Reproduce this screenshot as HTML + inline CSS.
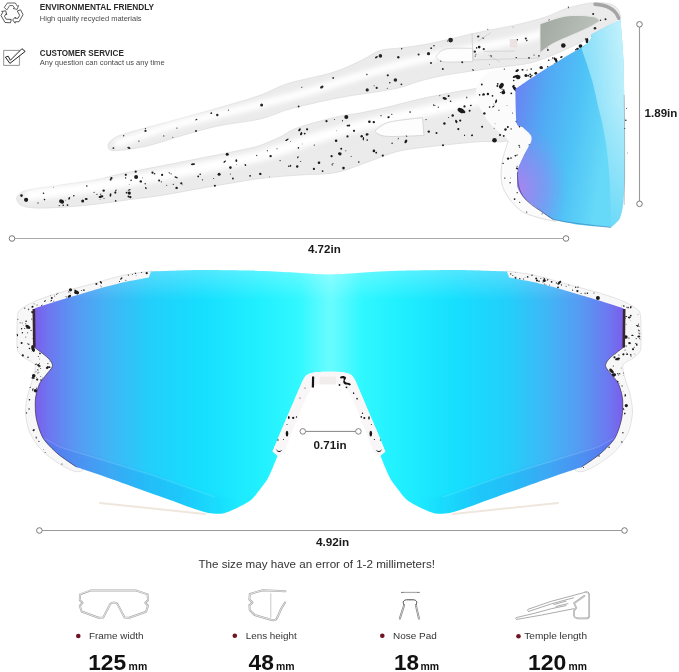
<!DOCTYPE html>
<html><head><meta charset="utf-8">
<style>
html,body{margin:0;padding:0;background:#fff;width:679px;height:672px;overflow:hidden}
svg{display:block;position:absolute;left:0;top:0}
text{font-family:"Liberation Sans",Arial,sans-serif}
.h{font-weight:bold;fill:#2a2a2a}
.s{fill:#4a4a4a}
.d{font-weight:bold;fill:#1a1a1a}
.lab{fill:#333}
.num{font-weight:bold;fill:#111}
</style></head><body>
<svg width="679" height="672" viewBox="0 0 679 672">
<defs>
<linearGradient id="fl" gradientUnits="userSpaceOnUse" x1="34" y1="0" x2="624" y2="0">
<stop offset="0.0000" stop-color="#7c5cec"/>
<stop offset="0.0271" stop-color="#6c78f0"/>
<stop offset="0.0695" stop-color="#5898f2"/>
<stop offset="0.1288" stop-color="#40b6f6"/>
<stop offset="0.1966" stop-color="#22cffb"/>
<stop offset="0.2814" stop-color="#16defe"/>
<stop offset="0.3831" stop-color="#20f0ff"/>
<stop offset="0.4508" stop-color="#32f8ff"/>
<stop offset="0.5000" stop-color="#44fbff"/>
<stop offset="0.5492" stop-color="#32f8ff"/>
<stop offset="0.6169" stop-color="#20f0ff"/>
<stop offset="0.7186" stop-color="#16defe"/>
<stop offset="0.8034" stop-color="#22cffb"/>
<stop offset="0.8712" stop-color="#40b6f6"/>
<stop offset="0.9305" stop-color="#5898f2"/>
<stop offset="0.9729" stop-color="#6c78f0"/>
<stop offset="1.0000" stop-color="#7c5cec"/>
</linearGradient>
<linearGradient id="fband" gradientUnits="userSpaceOnUse" x1="300" y1="0" x2="362" y2="0">
<stop offset="0" stop-color="#fff" stop-opacity="0"/>
<stop offset="0.5" stop-color="#fff" stop-opacity="0.2"/>
<stop offset="1" stop-color="#fff" stop-opacity="0"/>
</linearGradient>
<linearGradient id="ftop" gradientUnits="userSpaceOnUse" x1="0" y1="270" x2="0" y2="300">
<stop offset="0" stop-color="#fff" stop-opacity="0.25"/>
<stop offset="1" stop-color="#fff" stop-opacity="0"/>
</linearGradient>
<filter id="bl3" x="-10%" y="-30%" width="120%" height="160%"><feGaussianBlur stdDeviation="2.8"/></filter>
<filter id="bl2" x="-10%" y="-10%" width="120%" height="120%"><feGaussianBlur stdDeviation="1.5"/></filter>
<linearGradient id="bandL" gradientUnits="userSpaceOnUse" x1="40" y1="0" x2="240" y2="0">
<stop offset="0" stop-color="#2a70ee" stop-opacity="0.3"/><stop offset="0.7" stop-color="#2a86ee" stop-opacity="0.2"/><stop offset="1" stop-color="#2a90ee" stop-opacity="0"/></linearGradient>
<linearGradient id="bandR" gradientUnits="userSpaceOnUse" x1="618" y1="0" x2="418" y2="0">
<stop offset="0" stop-color="#2a70ee" stop-opacity="0.3"/><stop offset="0.7" stop-color="#2a86ee" stop-opacity="0.2"/><stop offset="1" stop-color="#2a90ee" stop-opacity="0"/></linearGradient>
<clipPath id="cfl"><path d="M329.0,274.5 C325.3,274.5 320.2,274.3 315.0,274.0 C309.8,273.7 298.7,272.8 290.0,272.3 C281.3,271.8 262.0,270.9 250.0,270.6 C238.0,270.3 213.2,269.9 200.0,270.0 C186.8,270.1 151.0,271.5 151.0,271.5 C151.0,271.5 149.0,277.5 149.0,277.5 C149.0,277.5 131.1,280.7 125.0,282.0 C118.9,283.3 108.9,285.9 103.0,287.5 C97.1,289.1 86.9,292.3 81.0,294.0 C75.1,295.7 64.9,298.7 59.0,300.5 C53.1,302.3 40.4,306.3 37.0,307.5 C33.6,308.7 33.5,309.5 33.5,309.5 C33.5,309.5 34.0,347.0 34.0,347.0 C34.0,347.0 45.5,355.5 48.0,358.0 C50.5,360.5 52.8,363.7 52.5,366.0 C52.2,368.3 47.7,372.6 46.0,375.0 C44.3,377.4 40.8,380.8 39.4,384.0 C38.0,387.2 35.8,394.5 35.4,399.0 C35.0,403.5 35.2,412.8 36.2,418.0 C37.2,423.2 40.1,433.2 43.0,438.0 C45.9,442.8 53.5,450.1 58.0,454.0 C62.5,457.9 76.5,467.0 76.5,467.0 C76.5,467.0 87.7,470.8 95.0,473.3 C102.3,475.8 121.5,482.6 131.0,486.0 C140.5,489.4 157.6,495.6 166.0,498.6 C174.4,501.6 188.3,506.9 194.0,508.8 C199.7,510.7 204.7,512.4 208.5,513.0 C212.3,513.6 218.8,514.2 222.6,513.5 C226.4,512.8 233.2,509.8 237.0,508.0 C240.8,506.2 248.0,502.4 251.0,500.0 C254.0,497.6 257.3,492.8 259.5,490.0 C261.7,487.2 265.7,482.1 267.5,479.0 C269.3,475.9 271.7,470.1 273.0,467.0 C274.3,463.9 277.5,456.0 277.5,456.0 C277.5,456.0 272.8,451.5 272.8,451.5 C272.8,451.5 278.6,437.0 281.5,430.0 C284.4,423.0 291.9,405.8 294.8,399.0 C297.7,392.2 301.8,382.3 303.6,379.0 C305.4,375.7 306.8,374.9 308.5,374.0 C310.2,373.1 313.3,372.5 316.0,372.2 C318.7,371.9 325.5,371.8 329.0,371.8 C332.5,371.8 339.3,371.9 342.0,372.2 C344.7,372.5 347.8,373.1 349.5,374.0 C351.2,374.9 352.6,375.7 354.4,379.0 C356.2,382.3 360.3,392.2 363.2,399.0 C366.1,405.8 373.6,423.0 376.5,430.0 C379.4,437.0 385.2,451.5 385.2,451.5 C385.2,451.5 380.5,456.0 380.5,456.0 C380.5,456.0 383.7,463.9 385.0,467.0 C386.3,470.1 388.7,475.9 390.5,479.0 C392.3,482.1 396.3,487.2 398.5,490.0 C400.7,492.8 404.0,497.6 407.0,500.0 C410.0,502.4 417.2,506.2 421.0,508.0 C424.8,509.8 431.6,512.8 435.4,513.5 C439.2,514.2 445.7,513.6 449.5,513.0 C453.3,512.4 458.3,510.7 464.0,508.8 C469.7,506.9 483.6,501.6 492.0,498.6 C500.4,495.6 517.5,489.4 527.0,486.0 C536.5,482.6 555.7,475.8 563.0,473.3 C570.3,470.8 581.5,467.0 581.5,467.0 C581.5,467.0 595.5,457.9 600.0,454.0 C604.5,450.1 612.1,442.8 615.0,438.0 C617.9,433.2 620.8,423.2 621.8,418.0 C622.8,412.8 623.0,403.5 622.6,399.0 C622.2,394.5 620.0,387.2 618.6,384.0 C617.2,380.8 613.7,377.4 612.0,375.0 C610.3,372.6 605.8,368.3 605.5,366.0 C605.2,363.7 607.5,360.5 610.0,358.0 C612.5,355.5 624.0,347.0 624.0,347.0 C624.0,347.0 624.5,309.5 624.5,309.5 C624.5,309.5 624.4,308.7 621.0,307.5 C617.6,306.3 604.9,302.3 599.0,300.5 C593.1,298.7 582.9,295.7 577.0,294.0 C571.1,292.3 560.9,289.1 555.0,287.5 C549.1,285.9 539.1,283.3 533.0,282.0 C526.9,280.7 509.0,277.5 509.0,277.5 C509.0,277.5 507.0,271.5 507.0,271.5 C507.0,271.5 471.2,270.1 458.0,270.0 C444.8,269.9 420.0,270.3 408.0,270.6 C396.0,270.9 376.7,271.8 368.0,272.3 C359.3,272.8 348.2,273.7 343.0,274.0 C337.8,274.3 332.7,274.5 329.0,274.5Z"/></clipPath>
<linearGradient id="sl" gradientUnits="userSpaceOnUse" x1="515" y1="100" x2="610" y2="115">
<stop offset="0" stop-color="#6a84f2"/>
<stop offset="0.3" stop-color="#52a8f4"/>
<stop offset="0.65" stop-color="#4ec2f6"/>
<stop offset="1" stop-color="#66d8f8"/>
</linearGradient>
<radialGradient id="slp" gradientUnits="userSpaceOnUse" cx="518" cy="190" r="50" gradientTransform="translate(518 190) scale(1 1.35) translate(-518 -190)">
<stop offset="0" stop-color="#ac84ee" stop-opacity="0.95"/>
<stop offset="0.6" stop-color="#9a88f0" stop-opacity="0.45"/>
<stop offset="1" stop-color="#8a90f0" stop-opacity="0"/>
</radialGradient>
<linearGradient id="sll" gradientUnits="userSpaceOnUse" x1="588" y1="0" x2="625" y2="0">
<stop offset="0" stop-color="#92e2f9"/>
<stop offset="1" stop-color="#c8f2fc"/>
</linearGradient>
<linearGradient id="sllm" gradientUnits="userSpaceOnUse" x1="0" y1="20" x2="0" y2="225">
<stop offset="0" stop-color="#fff"/>
<stop offset="0.4" stop-color="#fff" stop-opacity="0.85"/>
<stop offset="0.75" stop-color="#fff" stop-opacity="0.45"/>
<stop offset="1" stop-color="#fff" stop-opacity="0.1"/>
</linearGradient>
<mask id="sllmask" maskUnits="userSpaceOnUse" x="500" y="0" width="179" height="240"><rect x="500" y="0" width="179" height="240" fill="url(#sllm)"/></mask>
<linearGradient id="fg" gradientUnits="userSpaceOnUse" x1="539" y1="20" x2="600" y2="45">
<stop offset="0" stop-color="#a0a8a0"/>
<stop offset="1" stop-color="#c0c6c0"/>
</linearGradient>
</defs>
<path fill="#ebebeb" stroke="#dadada" stroke-width="0.7" d="M108.0,146.0 C108.0,146.0 108.3,142.5 111.0,140.5 C113.7,138.5 114.0,137.2 124.0,134.0 C134.0,130.8 155.3,125.3 171.0,121.0 C186.7,116.7 203.2,112.3 218.0,108.0 C232.8,103.7 248.3,99.4 260.0,95.3 C271.7,91.2 275.9,87.3 288.0,83.5 C300.1,79.7 320.2,76.4 332.5,72.5 C344.8,68.6 354.1,63.7 362.0,60.0 C369.9,56.3 373.7,52.5 380.0,50.5 C386.3,48.5 391.7,49.2 400.0,48.0 C408.3,46.8 417.0,46.1 430.0,43.5 C443.0,40.9 463.7,35.6 478.0,32.5 C492.3,29.4 504.8,27.4 516.0,24.9 C527.2,22.3 536.3,20.0 545.0,17.2 C553.7,14.4 560.0,10.4 568.0,8.0 C576.0,5.6 586.0,3.4 593.0,2.7 C600.0,2.0 605.8,2.9 610.0,4.0 C614.2,5.1 616.2,7.1 618.0,9.3 C619.8,11.6 621.0,17.5 621.0,17.5 C621.0,17.5 606.0,26.2 600.0,30.0 C594.0,33.8 591.7,36.3 585.0,40.0 C578.3,43.7 567.5,48.7 560.0,52.0 C552.5,55.3 545.8,58.0 540.0,60.0 C534.2,62.0 533.3,62.6 525.0,64.0 C516.7,65.4 501.7,66.9 490.0,68.5 C478.3,70.1 463.2,72.2 455.0,73.5 C446.8,74.8 446.8,74.8 441.0,76.0 C435.2,77.2 426.8,79.1 420.0,81.0 C413.2,82.9 407.2,85.7 400.0,87.5 C392.8,89.3 385.8,90.3 377.0,91.8 C368.2,93.3 356.8,94.6 347.0,96.3 C337.2,98.0 327.8,100.0 318.0,102.2 C308.2,104.4 297.7,106.7 288.0,109.5 C278.3,112.3 271.7,116.2 260.0,119.0 C248.3,121.8 230.9,123.3 218.0,126.0 C205.1,128.7 194.3,132.1 182.5,135.4 C170.7,138.7 158.4,143.4 147.0,146.0 C135.6,148.6 120.5,150.7 114.0,150.7 C107.5,150.7 108.0,146.0 108.0,146.0Z"/>
<path fill="none" stroke="#fff" stroke-width="8" stroke-linecap="round" filter="url(#bl3)" d="M118.0,143.0 C126.8,140.2 154.3,130.8 171.0,126.0 C187.7,121.2 203.2,118.1 218.0,114.5 C232.8,110.9 246.3,107.9 260.0,104.5 C273.7,101.1 286.7,97.8 300.0,94.0 C313.3,90.2 326.7,86.0 340.0,82.0 C353.3,78.0 365.0,74.2 380.0,70.0 C395.0,65.8 413.3,60.8 430.0,57.0 C446.7,53.2 463.3,50.3 480.0,47.0 C496.7,43.7 515.0,40.8 530.0,37.0 C545.0,33.2 563.3,26.2 570.0,24.0"/>
<path fill="#fdfdfd" stroke="#d0d0d0" stroke-width="0.8" d="M436.0,56.0 C436.0,56.0 439.9,50.3 446.0,49.0 C452.1,47.7 472.8,48.4 472.8,48.4 C472.8,48.4 472.8,61.5 472.8,61.5 C472.8,61.5 451.8,62.3 446.0,62.0 C440.2,61.7 439.7,60.5 438.0,59.5 C436.3,58.5 436.0,56.0 436.0,56.0Z"/>
<g fill="#262626"><circle cx="176.9" cy="128.1" r="0.6"/><ellipse cx="478.2" cy="36.6" rx="1.2" ry="1.0" transform="rotate(169 478.2 36.6)"/><circle cx="549.2" cy="20.6" r="1.0"/><circle cx="367.2" cy="89.9" r="1.6"/><circle cx="333.2" cy="77.9" r="0.9"/><circle cx="549.3" cy="37.1" r="1.3"/><circle cx="374.1" cy="85.8" r="0.5"/><circle cx="366.9" cy="74.5" r="0.7"/><ellipse cx="526.8" cy="40.5" rx="1.0" ry="0.6" transform="rotate(136 526.8 40.5)"/><circle cx="428.5" cy="53.7" r="1.6"/><ellipse cx="473.0" cy="70.0" rx="1.1" ry="0.6" transform="rotate(33 473.0 70.0)"/><circle cx="163.8" cy="135.9" r="0.6"/><circle cx="440.7" cy="61.1" r="0.7"/><circle cx="489.6" cy="64.3" r="0.4"/><circle cx="196.0" cy="131.1" r="1.0"/><circle cx="228.4" cy="110.1" r="0.6"/><circle cx="217.3" cy="115.0" r="1.2"/><circle cx="145.5" cy="130.9" r="1.1"/><ellipse cx="301.9" cy="87.2" rx="0.8" ry="0.4" transform="rotate(166 301.9 87.2)"/><circle cx="113.4" cy="148.1" r="0.9"/><circle cx="605.5" cy="19.2" r="1.0"/><ellipse cx="447.5" cy="41.0" rx="0.7" ry="0.5" transform="rotate(177 447.5 41.0)"/><ellipse cx="387.2" cy="88.4" rx="0.7" ry="0.4" transform="rotate(99 387.2 88.4)"/><circle cx="434.0" cy="45.7" r="0.8"/><circle cx="595.0" cy="28.3" r="1.3"/><circle cx="450.6" cy="40.1" r="2.4"/><circle cx="389.8" cy="82.8" r="0.8"/><ellipse cx="321.8" cy="87.1" rx="1.9" ry="1.2" transform="rotate(149 321.8 87.1)"/><ellipse cx="483.2" cy="38.0" rx="1.1" ry="0.7" transform="rotate(163 483.2 38.0)"/><circle cx="558.1" cy="26.3" r="1.2"/><circle cx="298.6" cy="106.5" r="0.9"/><circle cx="475.9" cy="54.2" r="0.5"/><ellipse cx="128.9" cy="147.9" rx="1.7" ry="0.9" transform="rotate(25 128.9 147.9)"/><circle cx="172.8" cy="137.2" r="0.5"/><circle cx="387.8" cy="75.3" r="1.1"/><circle cx="401.7" cy="48.8" r="0.7"/><circle cx="380.4" cy="55.9" r="1.8"/><circle cx="431.0" cy="62.9" r="1.0"/><circle cx="418.6" cy="54.4" r="1.0"/><ellipse cx="462.2" cy="62.2" rx="1.1" ry="0.9" transform="rotate(48 462.2 62.2)"/><ellipse cx="376.4" cy="57.2" rx="1.6" ry="0.9" transform="rotate(146 376.4 57.2)"/><ellipse cx="196.4" cy="119.6" rx="1.2" ry="0.6" transform="rotate(151 196.4 119.6)"/><circle cx="123.7" cy="135.8" r="0.7"/><circle cx="475.2" cy="56.1" r="0.6"/><circle cx="476.6" cy="47.9" r="0.8"/><circle cx="564.0" cy="34.8" r="2.1"/><circle cx="474.8" cy="51.6" r="1.2"/><circle cx="547.9" cy="50.0" r="0.9"/><circle cx="138.9" cy="141.1" r="0.7"/><circle cx="395.4" cy="80.0" r="1.8"/><circle cx="483.8" cy="49.1" r="1.1"/><circle cx="547.1" cy="47.7" r="0.6"/><circle cx="442.8" cy="69.1" r="1.0"/><circle cx="376.7" cy="87.9" r="1.1"/><circle cx="491.0" cy="56.2" r="1.0"/><circle cx="145.4" cy="128.6" r="0.6"/><circle cx="211.3" cy="113.2" r="0.9"/><circle cx="261.6" cy="105.0" r="1.5"/><circle cx="401.4" cy="84.3" r="0.9"/><circle cx="431.2" cy="48.2" r="0.9"/><circle cx="398.3" cy="57.2" r="1.2"/><circle cx="516.3" cy="57.8" r="0.8"/></g>
<path fill="url(#fg)" stroke="#e8e8e8" stroke-width="1" d="M540.0,24.0 C540.0,24.0 557.7,17.2 566.5,16.0 C575.3,14.8 587.5,15.7 593.0,16.6 C598.5,17.5 599.6,21.2 599.6,21.2 C599.6,21.2 593.3,25.2 590.0,27.0 C586.7,28.8 586.0,29.0 579.8,31.8 C573.6,34.6 559.6,40.2 553.0,43.7 C546.4,47.2 540.0,53.0 540.0,53.0 C540.0,53.0 540.0,24.0 540.0,24.0Z"/>
<g fill="none" stroke="#cfcfcf" stroke-width="0.8"><path d="M472,33 L473,60 L540,58"/><path d="M478,41 L491,32.5"/><path d="M484,51.5 L515,51"/><path d="M488,55 L500,62"/></g>
<rect x="510" y="39.5" width="7" height="7.5" fill="#ece4e2" stroke="#ddd" stroke-width="0.5"/>
<path fill="#ebebeb" stroke="#d8d8d8" stroke-width="0.7" d="M16.5,198.5 C16.5,198.5 18.1,193.0 24.9,190.8 C31.7,188.6 45.6,187.3 57.4,185.5 C69.2,183.7 85.3,181.7 95.7,179.8 C106.1,177.9 109.1,176.3 120.0,174.0 C130.9,171.7 147.2,168.7 161.0,166.0 C174.8,163.3 188.7,160.6 202.5,157.8 C216.3,155.1 234.1,151.6 243.7,149.5 C253.3,147.4 253.9,147.6 260.0,145.5 C266.1,143.4 273.8,139.9 280.0,137.0 C286.2,134.1 287.7,131.3 297.0,128.0 C306.3,124.7 325.5,119.5 336.0,117.0 C346.5,114.5 351.7,114.6 360.0,113.0 C368.3,111.4 376.0,109.8 386.0,107.5 C396.0,105.2 408.5,101.6 420.0,99.0 C431.5,96.4 444.7,94.0 455.0,92.0 C465.3,90.0 474.0,89.2 482.0,87.0 C490.0,84.8 494.3,81.7 503.0,79.0 C511.7,76.3 524.5,73.4 534.0,70.6 C543.5,67.8 555.7,50.4 560.0,62.0 C564.3,73.6 566.7,126.8 560.0,140.0 C553.3,153.2 528.7,140.8 520.0,141.0 C511.3,141.2 511.2,140.9 508.0,141.0 C504.8,141.1 506.0,141.7 501.0,141.8 C496.0,141.9 489.9,141.0 478.0,141.8 C466.1,142.6 443.1,145.1 429.6,146.7 C416.1,148.3 407.8,148.9 397.0,151.6 C386.2,154.3 375.2,159.5 365.0,163.0 C354.8,166.5 346.8,170.5 336.0,172.5 C325.2,174.5 309.3,174.3 300.0,175.0 C290.7,175.7 286.7,175.9 280.0,176.5 C273.3,177.1 266.1,177.8 260.0,178.5 C253.9,179.2 253.3,179.4 243.7,181.0 C234.1,182.6 216.3,185.6 202.5,188.0 C188.7,190.4 173.1,193.6 161.0,195.5 C148.9,197.4 139.3,198.2 130.0,199.5 C120.7,200.8 113.9,201.9 105.0,203.0 C96.1,204.1 87.7,205.3 76.6,206.2 C65.5,207.0 47.6,208.3 38.3,208.1 C29.0,207.9 24.6,206.8 21.0,205.2 C17.4,203.6 16.5,198.5 16.5,198.5Z"/>
<path fill="none" stroke="#fff" stroke-width="11" stroke-linecap="round" filter="url(#bl3)" d="M30.0,195.0 C41.7,193.5 78.3,189.2 100.0,186.0 C121.7,182.8 140.0,179.2 160.0,175.5 C180.0,171.8 203.3,167.2 220.0,164.0 C236.7,160.8 246.7,159.5 260.0,156.0 C273.3,152.5 286.7,147.2 300.0,143.0 C313.3,138.8 326.7,134.7 340.0,131.0 C353.3,127.3 363.3,124.8 380.0,121.0 C396.7,117.2 421.7,112.0 440.0,108.0 C458.3,104.0 481.7,98.8 490.0,97.0"/>
<path fill="#fdfdfd" stroke="#cfcfcf" stroke-width="0.8" d="M375.0,131.0 C375.0,131.0 378.2,127.6 381.0,126.0 C383.8,124.4 385.1,122.9 392.0,121.5 C398.9,120.1 422.5,117.7 422.5,117.7 C422.5,117.7 424.0,135.4 424.0,135.4 C424.0,135.4 399.3,136.6 392.0,136.5 C384.7,136.4 382.8,135.9 380.0,135.0 C377.2,134.1 375.0,131.0 375.0,131.0Z"/>
<path fill="#fbfbfb" d="M592.5,33.5 C592.5,33.5 593.1,37.8 591.0,40.0 C588.9,42.2 585.2,43.7 580.0,46.5 C574.8,49.3 566.7,54.2 560.0,57.0 C553.3,59.8 545.8,62.1 540.0,63.5 C534.2,64.9 530.8,64.7 525.0,65.5 C519.2,66.3 510.8,67.4 505.0,68.5 C499.2,69.6 494.2,70.1 490.0,72.0 C485.8,73.9 482.3,76.7 480.0,80.0 C477.7,83.3 476.0,87.3 476.0,92.0 C476.0,96.7 477.3,102.3 480.0,108.0 C482.7,113.7 487.3,120.5 492.0,126.0 C496.7,131.5 506.6,135.2 508.3,141.0 C510.0,146.8 503.6,154.3 502.4,160.7 C501.2,167.1 500.7,174.0 501.3,179.5 C501.9,185.0 502.9,188.6 506.0,193.7 C509.1,198.8 514.7,206.2 520.0,210.2 C525.3,214.2 532.0,215.6 538.0,217.5 C544.0,219.4 556.0,221.5 556.0,221.5 C556.0,221.5 574.3,211.9 575.0,200.0 C575.7,188.1 562.5,166.7 560.0,150.0 C557.5,133.3 554.0,118.3 560.0,100.0 C566.0,81.7 596.0,40.0 596.0,40.0 C596.0,40.0 592.5,33.5 592.5,33.5Z"/>
<path fill="none" stroke="#d6d6d6" stroke-width="0.8" d="M508.3,141.0 C507.3,144.3 503.6,154.3 502.4,160.7 C501.2,167.1 500.7,174.0 501.3,179.5 C501.9,185.0 502.9,188.6 506.0,193.7 C509.1,198.8 514.7,206.2 520.0,210.2 C525.3,214.2 532.0,215.6 538.0,217.5 C544.0,219.4 556.0,221.5 556.0,221.5"/>
<g fill="#1a1a1a"><circle cx="345.8" cy="150.7" r="0.5"/><circle cx="230.4" cy="167.6" r="1.3"/><circle cx="302.2" cy="143.9" r="0.4"/><circle cx="115.3" cy="192.6" r="1.1"/><circle cx="539.3" cy="85.5" r="1.0"/><circle cx="304.7" cy="133.6" r="0.9"/><circle cx="505.5" cy="129.4" r="1.2"/><ellipse cx="193.0" cy="164.2" rx="2.1" ry="0.9" transform="rotate(172 193.0 164.2)"/><ellipse cx="297.9" cy="157.2" rx="1.0" ry="0.7" transform="rotate(112 297.9 157.2)"/><circle cx="495.1" cy="123.8" r="0.4"/><ellipse cx="61.6" cy="201.5" rx="2.6" ry="2.0" transform="rotate(28 61.6 201.5)"/><circle cx="554.6" cy="84.1" r="1.7"/><circle cx="260.3" cy="173.9" r="1.2"/><circle cx="334.4" cy="119.4" r="0.5"/><circle cx="361.7" cy="136.3" r="1.2"/><ellipse cx="299.5" cy="129.8" rx="1.7" ry="1.0" transform="rotate(131 299.5 129.8)"/><circle cx="452.7" cy="115.5" r="1.2"/><circle cx="182.8" cy="184.8" r="0.4"/><ellipse cx="426.1" cy="119.7" rx="0.9" ry="0.4" transform="rotate(172 426.1 119.7)"/><circle cx="450.6" cy="101.3" r="0.8"/><ellipse cx="470.9" cy="105.4" rx="1.1" ry="0.7" transform="rotate(165 470.9 105.4)"/><ellipse cx="558.8" cy="83.4" rx="0.8" ry="0.5" transform="rotate(116 558.8 83.4)"/><circle cx="297.2" cy="166.5" r="1.2"/><circle cx="539.3" cy="110.3" r="1.0"/><circle cx="479.6" cy="94.9" r="0.8"/><circle cx="25.8" cy="199.8" r="0.9"/><circle cx="349.3" cy="125.5" r="0.9"/><circle cx="280.1" cy="160.6" r="0.6"/><ellipse cx="236.3" cy="160.6" rx="1.3" ry="0.9" transform="rotate(83 236.3 160.6)"/><circle cx="489.6" cy="107.1" r="0.8"/><circle cx="464.5" cy="106.4" r="1.1"/><circle cx="537.0" cy="78.4" r="0.7"/><ellipse cx="256.7" cy="155.4" rx="0.8" ry="0.5" transform="rotate(122 256.7 155.4)"/><circle cx="448.6" cy="96.1" r="1.0"/><circle cx="464.1" cy="112.0" r="1.2"/><circle cx="381.0" cy="115.7" r="0.6"/><ellipse cx="502.2" cy="89.2" rx="0.7" ry="0.4" transform="rotate(165 502.2 89.2)"/><circle cx="145.2" cy="183.8" r="0.7"/><ellipse cx="519.9" cy="75.9" rx="0.8" ry="0.4" transform="rotate(61 519.9 75.9)"/><circle cx="219.1" cy="174.2" r="1.5"/><circle cx="250.1" cy="175.8" r="0.9"/><circle cx="200.2" cy="174.2" r="0.8"/><circle cx="336.1" cy="140.7" r="1.3"/><ellipse cx="86.2" cy="199.0" rx="1.5" ry="1.1" transform="rotate(1 86.2 199.0)"/><circle cx="43.5" cy="193.3" r="0.8"/><circle cx="300.7" cy="161.6" r="0.5"/><ellipse cx="406.5" cy="136.1" rx="0.9" ry="0.5" transform="rotate(37 406.5 136.1)"/><circle cx="232.9" cy="178.5" r="0.9"/><circle cx="171.1" cy="173.8" r="0.6"/><circle cx="331.6" cy="156.2" r="1.1"/><circle cx="505.3" cy="129.8" r="0.6"/><circle cx="511.3" cy="93.3" r="0.9"/><circle cx="125.8" cy="174.8" r="1.1"/><circle cx="484.0" cy="94.5" r="1.0"/><circle cx="129.2" cy="184.3" r="0.4"/><circle cx="410.1" cy="112.1" r="0.8"/><circle cx="346.3" cy="116.9" r="2.0"/><ellipse cx="367.1" cy="134.4" rx="1.5" ry="1.2" transform="rotate(166 367.1 134.4)"/><ellipse cx="398.2" cy="138.6" rx="0.9" ry="0.4" transform="rotate(111 398.2 138.6)"/><ellipse cx="543.9" cy="119.2" rx="0.9" ry="0.6" transform="rotate(147 543.9 119.2)"/><circle cx="65.7" cy="200.2" r="0.4"/><ellipse cx="332.2" cy="165.0" rx="0.8" ry="0.4" transform="rotate(25 332.2 165.0)"/><circle cx="351.2" cy="156.4" r="0.5"/><circle cx="503.4" cy="136.4" r="0.4"/><ellipse cx="347.8" cy="125.6" rx="1.2" ry="0.9" transform="rotate(173 347.8 125.6)"/><circle cx="513.7" cy="80.5" r="0.8"/><circle cx="135.7" cy="171.7" r="1.1"/><circle cx="314.3" cy="145.1" r="0.6"/><circle cx="214.9" cy="185.8" r="1.0"/><circle cx="307.1" cy="129.3" r="1.1"/><circle cx="537.6" cy="79.1" r="1.0"/><circle cx="213.7" cy="178.6" r="0.5"/><circle cx="369.4" cy="121.7" r="1.3"/><circle cx="326.5" cy="121.2" r="1.1"/><ellipse cx="528.6" cy="115.0" rx="1.8" ry="0.8" transform="rotate(14 528.6 115.0)"/><ellipse cx="342.5" cy="120.8" rx="0.8" ry="0.5" transform="rotate(88 342.5 120.8)"/><circle cx="181.3" cy="183.3" r="1.1"/><ellipse cx="145.9" cy="188.1" rx="1.1" ry="0.7" transform="rotate(65 145.9 188.1)"/><ellipse cx="493.4" cy="106.5" rx="1.5" ry="0.6" transform="rotate(144 493.4 106.5)"/><ellipse cx="494.2" cy="128.3" rx="0.6" ry="0.3" transform="rotate(145 494.2 128.3)"/><circle cx="500.4" cy="92.4" r="0.5"/><ellipse cx="101.0" cy="196.7" rx="2.5" ry="1.2" transform="rotate(165 101.0 196.7)"/><circle cx="539.2" cy="78.8" r="1.2"/><circle cx="494.5" cy="140.3" r="2.3"/><ellipse cx="439.8" cy="95.6" rx="0.6" ry="0.4" transform="rotate(118 439.8 95.6)"/><circle cx="469.6" cy="110.8" r="1.0"/><ellipse cx="388.6" cy="117.2" rx="1.3" ry="0.9" transform="rotate(162 388.6 117.2)"/><circle cx="376.2" cy="152.7" r="0.9"/><circle cx="322.6" cy="171.1" r="0.9"/><ellipse cx="448.6" cy="117.5" rx="0.7" ry="0.4" transform="rotate(41 448.6 117.5)"/><circle cx="110.6" cy="179.7" r="0.9"/><ellipse cx="472.0" cy="135.3" rx="1.1" ry="0.9" transform="rotate(132 472.0 135.3)"/><circle cx="551.2" cy="125.3" r="1.2"/><ellipse cx="501.4" cy="85.8" rx="3.1" ry="2.0" transform="rotate(122 501.4 85.8)"/><circle cx="136.1" cy="177.0" r="2.0"/><ellipse cx="464.6" cy="135.3" rx="0.7" ry="0.6" transform="rotate(72 464.6 135.3)"/><ellipse cx="545.9" cy="126.9" rx="1.5" ry="0.9" transform="rotate(40 545.9 126.9)"/><ellipse cx="224.7" cy="161.6" rx="1.6" ry="0.7" transform="rotate(142 224.7 161.6)"/><circle cx="428.8" cy="131.6" r="1.2"/><circle cx="373.8" cy="122.1" r="1.2"/><ellipse cx="405.9" cy="141.4" rx="2.0" ry="1.2" transform="rotate(120 405.9 141.4)"/><ellipse cx="444.7" cy="98.4" rx="2.2" ry="1.3" transform="rotate(15 444.7 98.4)"/><circle cx="559.8" cy="68.2" r="0.5"/><circle cx="373.9" cy="150.9" r="1.3"/><circle cx="558.2" cy="124.2" r="0.5"/><ellipse cx="267.3" cy="150.7" rx="0.7" ry="0.5" transform="rotate(77 267.3 150.7)"/><circle cx="336.6" cy="130.8" r="0.4"/><ellipse cx="176.2" cy="177.3" rx="1.8" ry="0.7" transform="rotate(20 176.2 177.3)"/><circle cx="339.1" cy="153.6" r="1.1"/><ellipse cx="110.5" cy="195.0" rx="1.8" ry="0.9" transform="rotate(96 110.5 195.0)"/><circle cx="162.1" cy="174.9" r="1.1"/><circle cx="270.6" cy="156.1" r="1.2"/><ellipse cx="461.0" cy="110.5" rx="3.7" ry="2.2" transform="rotate(30 461.0 110.5)"/><circle cx="556.2" cy="101.9" r="1.2"/><circle cx="482.1" cy="126.7" r="1.0"/><circle cx="458.3" cy="129.1" r="1.1"/><ellipse cx="456.2" cy="121.5" rx="1.8" ry="1.0" transform="rotate(72 456.2 121.5)"/><circle cx="154.6" cy="173.7" r="0.8"/><circle cx="161.3" cy="181.8" r="0.6"/><ellipse cx="301.2" cy="133.7" rx="1.7" ry="1.0" transform="rotate(116 301.2 133.7)"/><circle cx="198.2" cy="176.4" r="0.9"/><circle cx="340.0" cy="153.8" r="1.6"/><circle cx="436.5" cy="133.0" r="1.0"/><circle cx="159.1" cy="180.5" r="1.0"/><circle cx="269.4" cy="176.8" r="0.4"/><circle cx="516.6" cy="121.6" r="1.0"/><ellipse cx="169.3" cy="172.8" rx="0.7" ry="0.5" transform="rotate(38 169.3 172.8)"/><circle cx="531.9" cy="75.5" r="0.7"/><circle cx="298.4" cy="147.9" r="0.8"/><circle cx="230.4" cy="173.9" r="0.5"/><ellipse cx="286.9" cy="139.8" rx="2.0" ry="0.7" transform="rotate(149 286.9 139.8)"/><circle cx="443.0" cy="145.3" r="1.0"/><circle cx="460.2" cy="120.6" r="1.1"/><circle cx="500.0" cy="134.9" r="1.0"/><ellipse cx="550.9" cy="117.0" rx="0.7" ry="0.6" transform="rotate(114 550.9 117.0)"/><circle cx="202.5" cy="179.8" r="0.6"/><ellipse cx="115.9" cy="190.5" rx="1.0" ry="0.6" transform="rotate(115 115.9 190.5)"/><circle cx="438.3" cy="107.2" r="0.6"/><circle cx="358.8" cy="162.1" r="0.8"/><ellipse cx="245.4" cy="165.0" rx="1.1" ry="0.8" transform="rotate(65 245.4 165.0)"/><circle cx="391.8" cy="114.3" r="0.6"/><circle cx="290.5" cy="141.5" r="0.4"/><ellipse cx="466.8" cy="97.5" rx="1.0" ry="0.5" transform="rotate(90 466.8 97.5)"/><ellipse cx="537.9" cy="110.5" rx="0.7" ry="0.4" transform="rotate(106 537.9 110.5)"/><circle cx="341.2" cy="148.7" r="1.0"/><circle cx="444.4" cy="123.5" r="1.2"/><ellipse cx="97.0" cy="194.4" rx="0.8" ry="0.4" transform="rotate(147 97.0 194.4)"/><ellipse cx="435.2" cy="105.7" rx="0.8" ry="0.3" transform="rotate(7 435.2 105.7)"/><circle cx="553.4" cy="97.1" r="0.8"/><circle cx="236.4" cy="164.6" r="0.4"/><circle cx="277.0" cy="148.8" r="0.5"/><circle cx="354.0" cy="130.8" r="1.1"/><circle cx="367.2" cy="140.1" r="0.8"/><circle cx="128.5" cy="196.5" r="1.0"/><circle cx="493.9" cy="104.0" r="0.4"/><circle cx="532.5" cy="128.7" r="2.3"/><circle cx="503.3" cy="92.4" r="1.9"/><circle cx="382.8" cy="155.6" r="1.1"/><circle cx="456.9" cy="121.6" r="0.6"/><circle cx="313.9" cy="168.9" r="1.1"/><ellipse cx="363.4" cy="138.7" rx="1.8" ry="0.7" transform="rotate(95 363.4 138.7)"/><circle cx="516.7" cy="93.9" r="0.8"/><circle cx="288.7" cy="166.3" r="0.7"/><circle cx="347.5" cy="136.4" r="1.1"/><circle cx="392.1" cy="143.2" r="0.7"/><ellipse cx="433.8" cy="105.2" rx="1.0" ry="0.6" transform="rotate(54 433.8 105.2)"/><ellipse cx="290.4" cy="165.8" rx="1.0" ry="0.8" transform="rotate(122 290.4 165.8)"/><ellipse cx="332.6" cy="163.9" rx="1.1" ry="0.5" transform="rotate(159 332.6 163.9)"/><circle cx="343.5" cy="168.1" r="1.3"/><circle cx="545.8" cy="122.8" r="0.6"/><circle cx="319.0" cy="162.7" r="1.3"/><circle cx="507.8" cy="127.1" r="1.0"/><circle cx="128.2" cy="190.8" r="0.5"/><circle cx="103.7" cy="190.6" r="1.2"/><circle cx="227.2" cy="154.3" r="1.5"/></g>
<g fill="#1a1a1a"><ellipse cx="94.1" cy="192.4" rx="0.7" ry="0.4" transform="rotate(145 94.1 192.4)"/><ellipse cx="129.4" cy="189.8" rx="1.3" ry="0.7" transform="rotate(163 129.4 189.8)"/><circle cx="26.1" cy="199.8" r="2.1"/><circle cx="82.7" cy="200.9" r="1.5"/><circle cx="44.5" cy="199.6" r="0.8"/><circle cx="21.5" cy="195.6" r="1.3"/><circle cx="129.3" cy="193.1" r="1.6"/><circle cx="100.1" cy="199.4" r="0.4"/><circle cx="86.8" cy="186.0" r="0.8"/><circle cx="173.3" cy="184.3" r="0.6"/><ellipse cx="142.5" cy="177.9" rx="0.6" ry="0.4" transform="rotate(179 142.5 177.9)"/><ellipse cx="69.2" cy="198.4" rx="1.4" ry="0.8" transform="rotate(112 69.2 198.4)"/><ellipse cx="59.4" cy="205.7" rx="0.9" ry="0.4" transform="rotate(169 59.4 205.7)"/><ellipse cx="100.7" cy="194.2" rx="0.7" ry="0.5" transform="rotate(124 100.7 194.2)"/><circle cx="38.0" cy="202.9" r="0.6"/><circle cx="176.6" cy="187.9" r="1.2"/><circle cx="140.8" cy="181.4" r="1.2"/><circle cx="111.4" cy="178.2" r="1.1"/><circle cx="104.0" cy="198.4" r="0.5"/><circle cx="67.5" cy="205.1" r="0.9"/><circle cx="131.1" cy="180.3" r="0.8"/><circle cx="130.3" cy="197.1" r="1.2"/><circle cx="125.6" cy="177.9" r="0.7"/><circle cx="166.7" cy="185.2" r="0.5"/><circle cx="115.7" cy="200.9" r="0.8"/><circle cx="152.5" cy="172.7" r="1.1"/><circle cx="126.6" cy="192.7" r="0.9"/><circle cx="73.8" cy="195.8" r="0.8"/><circle cx="53.4" cy="187.2" r="0.4"/><circle cx="63.2" cy="205.2" r="0.8"/></g>
<g fill="#1a1a1a"><circle cx="503.8" cy="135.8" r="0.9"/><circle cx="511.1" cy="128.9" r="0.7"/><circle cx="510.3" cy="178.0" r="0.4"/><circle cx="514.6" cy="199.1" r="0.9"/><ellipse cx="499.0" cy="110.2" rx="0.9" ry="0.4" transform="rotate(172 499.0 110.2)"/><circle cx="503.7" cy="90.1" r="0.9"/><ellipse cx="517.1" cy="166.4" rx="0.6" ry="0.4" transform="rotate(45 517.1 166.4)"/><circle cx="529.3" cy="144.9" r="0.7"/><circle cx="519.1" cy="145.5" r="0.7"/><circle cx="487.9" cy="94.0" r="1.2"/><ellipse cx="515.3" cy="155.7" rx="0.9" ry="0.7" transform="rotate(34 515.3 155.7)"/><circle cx="497.4" cy="85.9" r="1.0"/><circle cx="510.1" cy="182.7" r="0.7"/><circle cx="526.7" cy="212.1" r="0.6"/><ellipse cx="515.8" cy="76.3" rx="3.3" ry="1.2" transform="rotate(162 515.8 76.3)"/><circle cx="511.0" cy="158.1" r="0.8"/><ellipse cx="517.1" cy="70.6" rx="1.9" ry="1.1" transform="rotate(145 517.1 70.6)"/><circle cx="481.8" cy="84.5" r="0.9"/><circle cx="575.7" cy="49.7" r="0.7"/><ellipse cx="517.0" cy="155.1" rx="0.9" ry="0.5" transform="rotate(99 517.0 155.1)"/><circle cx="519.6" cy="147.1" r="0.7"/><circle cx="519.5" cy="126.8" r="0.8"/><circle cx="484.4" cy="113.4" r="1.2"/><circle cx="519.7" cy="202.3" r="0.6"/><ellipse cx="483.1" cy="94.5" rx="1.3" ry="0.8" transform="rotate(110 483.1 94.5)"/><circle cx="497.7" cy="83.8" r="0.9"/><circle cx="503.1" cy="163.4" r="0.7"/><ellipse cx="496.1" cy="101.3" rx="2.0" ry="0.9" transform="rotate(107 496.1 101.3)"/><circle cx="530.5" cy="76.7" r="1.0"/><circle cx="504.3" cy="69.1" r="0.6"/><ellipse cx="512.6" cy="113.1" rx="0.8" ry="0.3" transform="rotate(64 512.6 113.1)"/><circle cx="508.1" cy="158.6" r="1.2"/><ellipse cx="517.1" cy="168.5" rx="1.4" ry="0.8" transform="rotate(32 517.1 168.5)"/><circle cx="492.5" cy="95.8" r="0.9"/><circle cx="507.0" cy="105.6" r="0.4"/><circle cx="504.8" cy="178.1" r="0.7"/><ellipse cx="517.2" cy="192.7" rx="0.7" ry="0.6" transform="rotate(130 517.2 192.7)"/><ellipse cx="522.5" cy="69.9" rx="1.1" ry="0.8" transform="rotate(5 522.5 69.9)"/><circle cx="542.1" cy="213.8" r="0.5"/><circle cx="518.0" cy="77.4" r="1.9"/></g>
<g fill="#1a1a1a"><circle cx="547.7" cy="66.8" r="0.8"/><circle cx="548.7" cy="60.2" r="0.8"/><ellipse cx="517.8" cy="70.6" rx="0.8" ry="0.7" transform="rotate(136 517.8 70.6)"/><ellipse cx="556.2" cy="60.6" rx="2.7" ry="1.2" transform="rotate(75 556.2 60.6)"/><circle cx="531.2" cy="69.1" r="0.8"/><circle cx="580.5" cy="46.1" r="1.9"/><ellipse cx="515.1" cy="88.9" rx="3.0" ry="1.5" transform="rotate(52 515.1 88.9)"/><circle cx="525.9" cy="75.6" r="1.5"/><circle cx="541.1" cy="67.5" r="1.6"/><ellipse cx="513.4" cy="86.1" rx="1.6" ry="0.9" transform="rotate(131 513.4 86.1)"/><ellipse cx="561.4" cy="57.0" rx="1.3" ry="0.9" transform="rotate(158 561.4 57.0)"/><circle cx="518.6" cy="77.3" r="1.7"/><circle cx="530.2" cy="74.4" r="0.9"/><circle cx="535.8" cy="73.3" r="1.4"/><circle cx="542.4" cy="68.1" r="0.6"/><circle cx="577.5" cy="49.1" r="1.3"/><circle cx="528.2" cy="75.7" r="0.9"/><ellipse cx="587.0" cy="40.7" rx="2.6" ry="1.4" transform="rotate(94 587.0 40.7)"/><circle cx="554.3" cy="63.7" r="0.5"/><circle cx="552.8" cy="58.0" r="0.8"/><ellipse cx="554.6" cy="58.8" rx="1.5" ry="0.7" transform="rotate(78 554.6 58.8)"/><circle cx="527.1" cy="70.0" r="0.6"/></g>
<g fill="#1a1a1a"><ellipse cx="568.3" cy="7.3" rx="1.0" ry="0.4" transform="rotate(78 568.3 7.3)"/><circle cx="534.1" cy="55.0" r="0.6"/><circle cx="593.2" cy="14.1" r="1.0"/><circle cx="517.4" cy="39.8" r="0.7"/><circle cx="487.8" cy="29.2" r="0.5"/><circle cx="585.5" cy="39.0" r="0.7"/><circle cx="538.9" cy="55.9" r="0.8"/><circle cx="479.2" cy="47.1" r="1.3"/><circle cx="513.0" cy="27.1" r="0.4"/><circle cx="529.0" cy="57.9" r="0.8"/><circle cx="600.5" cy="20.3" r="0.7"/><ellipse cx="614.6" cy="12.3" rx="0.8" ry="0.5" transform="rotate(47 614.6 12.3)"/><circle cx="525.8" cy="38.5" r="1.0"/><circle cx="563.3" cy="45.5" r="2.3"/></g>
<path fill="url(#sl)" d="M620.5,19.5 C620.5,19.5 623.0,48.3 623.5,60.0 C624.0,71.7 624.4,106.7 624.6,120.0 C624.8,133.3 625.2,163.8 625.0,173.7 C624.8,183.6 623.6,199.7 623.0,205.0 C622.4,210.3 620.9,216.4 619.5,219.0 C618.1,221.6 611.0,227.5 611.0,227.5 C611.0,227.5 586.8,225.9 580.0,225.0 C573.2,224.1 553.0,219.5 553.0,219.5 C553.0,219.5 542.6,212.4 539.3,210.0 C536.0,207.6 527.2,201.2 524.7,198.5 C522.2,195.8 518.3,190.3 517.5,187.0 C516.7,183.7 517.1,173.6 517.8,170.0 C518.5,166.4 522.1,159.3 523.6,156.0 C525.1,152.7 530.1,144.4 531.0,142.0 C531.9,139.6 531.9,137.2 531.0,135.5 C530.1,133.8 524.7,129.0 523.0,127.5 C521.3,126.0 517.5,127.5 516.6,123.0 C515.7,118.5 515.4,89.0 515.4,89.0 C515.4,89.0 526.3,81.4 530.0,79.0 C533.7,76.6 543.2,70.4 546.7,68.2 C550.2,66.0 556.9,62.1 560.0,60.2 C563.1,58.3 571.1,53.5 573.5,52.1 C575.9,50.7 578.5,49.2 580.2,48.1 C581.9,47.0 586.9,44.0 588.2,42.8 C589.5,41.6 590.6,39.0 591.0,38.0 C591.4,37.0 591.5,34.5 591.5,34.5 C591.5,34.5 620.5,19.5 620.5,19.5Z"/>
<path fill="url(#slp)" d="M620.5,19.5 C620.5,19.5 623.0,48.3 623.5,60.0 C624.0,71.7 624.4,106.7 624.6,120.0 C624.8,133.3 625.2,163.8 625.0,173.7 C624.8,183.6 623.6,199.7 623.0,205.0 C622.4,210.3 620.9,216.4 619.5,219.0 C618.1,221.6 611.0,227.5 611.0,227.5 C611.0,227.5 586.8,225.9 580.0,225.0 C573.2,224.1 553.0,219.5 553.0,219.5 C553.0,219.5 542.6,212.4 539.3,210.0 C536.0,207.6 527.2,201.2 524.7,198.5 C522.2,195.8 518.3,190.3 517.5,187.0 C516.7,183.7 517.1,173.6 517.8,170.0 C518.5,166.4 522.1,159.3 523.6,156.0 C525.1,152.7 530.1,144.4 531.0,142.0 C531.9,139.6 531.9,137.2 531.0,135.5 C530.1,133.8 524.7,129.0 523.0,127.5 C521.3,126.0 517.5,127.5 516.6,123.0 C515.7,118.5 515.4,89.0 515.4,89.0 C515.4,89.0 526.3,81.4 530.0,79.0 C533.7,76.6 543.2,70.4 546.7,68.2 C550.2,66.0 556.9,62.1 560.0,60.2 C563.1,58.3 571.1,53.5 573.5,52.1 C575.9,50.7 578.5,49.2 580.2,48.1 C581.9,47.0 586.9,44.0 588.2,42.8 C589.5,41.6 590.6,39.0 591.0,38.0 C591.4,37.0 591.5,34.5 591.5,34.5 C591.5,34.5 620.5,19.5 620.5,19.5Z"/>
<path fill="url(#sll)" mask="url(#sllmask)" d="M620.5,19.5 C620.5,19.5 623.0,48.3 623.5,60.0 C624.0,71.7 624.4,106.7 624.6,120.0 C624.8,133.3 625.2,163.8 625.0,173.7 C624.8,183.6 623.6,199.7 623.0,205.0 C622.4,210.3 620.9,216.4 619.5,219.0 C618.1,221.6 611.0,227.5 611.0,227.5 C611.0,227.5 611.2,223.5 611.0,218.0 C610.8,212.5 610.0,188.3 609.5,180.0 C609.0,171.7 607.4,153.8 606.5,147.0 C605.6,140.2 602.9,126.3 602.0,122.0 C601.1,117.7 600.2,114.9 599.0,110.0 C597.8,105.1 594.0,87.2 592.0,80.0 C590.0,72.8 581.5,48.2 581.5,48.2 C581.5,48.2 587.1,44.0 588.2,42.8 C589.3,41.6 590.6,39.0 591.0,38.0 C591.4,37.0 591.5,34.5 591.5,34.5 C591.5,34.5 620.5,19.5 620.5,19.5Z"/>
<path fill="none" stroke="#2a2a50" stroke-opacity="0.7" stroke-width="0.8" d="M517.6,172 C517.2,180 518.5,192 524.7,198.5 C529,203 534,207 539.3,210 C544,213 548,216.5 553,219.5"/>
<path fill="none" stroke="#2a4a90" stroke-opacity="0.5" stroke-width="0.8" d="M553,219.5 C570,223 590,225 611,227.5"/>
<path fill="none" stroke="#8a8a8a" stroke-opacity="0.7" stroke-width="0.7" d="M624.2,95 C624.8,130 624.9,170 624.2,205"/>
<g fill="#222"><circle cx="626.6" cy="108.3" r="0.5"/><circle cx="625.8" cy="120.2" r="0.8"/><circle cx="624.8" cy="128.4" r="0.5"/><circle cx="627.3" cy="153" r="0.4"/></g>
<path fill="none" stroke="#a4a4a4" stroke-width="3.4" stroke-linecap="round" d="M595,4.3 C607,4.9 615.5,9.8 618.8,18.3"/>
<path fill="#f7f7f7" stroke="#d8d8d8" stroke-width="0.7" d="M152.0,271.0 C152.0,271.0 135.0,273.1 130.0,274.0 C125.0,274.9 119.4,276.2 114.4,277.5 C109.4,278.8 99.7,281.8 92.3,283.8 C84.9,285.8 66.6,290.6 59.2,292.8 C51.8,295.0 41.7,298.4 37.0,300.3 C32.3,302.2 26.5,305.3 24.0,307.0 C21.5,308.7 18.9,309.9 18.0,313.0 C17.1,316.1 17.1,325.1 17.0,330.0 C16.9,334.9 16.6,346.3 17.5,350.0 C18.4,353.7 21.7,355.5 24.0,357.5 C26.3,359.5 33.8,362.3 35.0,365.0 C36.2,367.7 33.9,374.1 33.0,378.0 C32.1,381.9 29.0,389.5 28.0,394.0 C27.0,398.5 25.3,406.9 25.5,412.0 C25.7,417.1 27.4,426.9 29.5,432.0 C31.6,437.1 37.5,445.7 41.5,450.0 C45.5,454.3 55.0,461.1 59.5,464.0 C64.0,466.9 71.9,470.6 75.0,471.5 C78.1,472.4 83.0,470.5 83.0,470.5 C83.0,470.5 80.0,462.0 80.0,462.0 C80.0,462.0 59.3,448.3 55.0,440.0 C50.7,431.7 48.0,409.3 48.0,400.0 C48.0,390.7 55.4,378.0 55.0,370.0 C54.6,362.0 46.3,347.3 45.0,340.0 C43.7,332.7 37.7,321.0 45.0,315.0 C52.3,309.0 85.3,299.4 100.0,295.0 C114.7,290.6 155.0,282.0 155.0,282.0 C155.0,282.0 152.0,271.0 152.0,271.0Z"/>
<g fill="#1a1a1a"><circle cx="70.5" cy="289.8" r="1.6"/><ellipse cx="28.7" cy="344.3" rx="1.0" ry="0.5" transform="rotate(168 28.7 344.3)"/><ellipse cx="75.2" cy="290.5" rx="1.0" ry="0.8" transform="rotate(50 75.2 290.5)"/><circle cx="47.9" cy="363.6" r="0.6"/><circle cx="22.8" cy="355.4" r="1.1"/><circle cx="146.7" cy="273.2" r="1.1"/><circle cx="56.6" cy="294.2" r="0.5"/><ellipse cx="39.9" cy="365.8" rx="1.1" ry="0.5" transform="rotate(37 39.9 365.8)"/><circle cx="39.8" cy="352.9" r="0.4"/><circle cx="33.5" cy="335.0" r="0.7"/><circle cx="51.4" cy="300.3" r="0.6"/><circle cx="141.6" cy="272.6" r="0.5"/><circle cx="21.6" cy="342.9" r="1.0"/><circle cx="32.5" cy="346.1" r="0.8"/><ellipse cx="36.0" cy="364.3" rx="0.9" ry="0.6" transform="rotate(145 36.0 364.3)"/><circle cx="41.0" cy="380.1" r="0.8"/><ellipse cx="100.9" cy="282.3" rx="1.6" ry="0.8" transform="rotate(54 100.9 282.3)"/><circle cx="32.8" cy="349.8" r="0.9"/><circle cx="51.8" cy="297.9" r="1.0"/><circle cx="39.1" cy="366.6" r="0.8"/><ellipse cx="37.8" cy="373.2" rx="0.8" ry="0.3" transform="rotate(70 37.8 373.2)"/><ellipse cx="135.5" cy="273.3" rx="0.9" ry="0.5" transform="rotate(41 135.5 273.3)"/><circle cx="96.4" cy="284.0" r="1.0"/><circle cx="28.0" cy="357.3" r="0.8"/><ellipse cx="32.8" cy="389.4" rx="1.3" ry="0.6" transform="rotate(112 32.8 389.4)"/><circle cx="21.6" cy="328.8" r="0.7"/><circle cx="76.1" cy="292.2" r="1.9"/><ellipse cx="119.5" cy="281.5" rx="0.6" ry="0.5" transform="rotate(120 119.5 281.5)"/><ellipse cx="32.4" cy="312.2" rx="1.3" ry="1.0" transform="rotate(20 32.4 312.2)"/><circle cx="32.5" cy="306.8" r="1.0"/><circle cx="41.7" cy="305.6" r="0.6"/><ellipse cx="33.1" cy="377.9" rx="1.7" ry="0.9" transform="rotate(9 33.1 377.9)"/><circle cx="24.7" cy="328.5" r="0.5"/><ellipse cx="17.4" cy="335.1" rx="1.3" ry="0.6" transform="rotate(76 17.4 335.1)"/><circle cx="29.5" cy="348.5" r="0.8"/><circle cx="25.7" cy="323.8" r="0.5"/><ellipse cx="33.0" cy="348.6" rx="3.2" ry="1.6" transform="rotate(76 33.0 348.6)"/><ellipse cx="69.4" cy="296.5" rx="2.0" ry="1.3" transform="rotate(136 69.4 296.5)"/><circle cx="33.7" cy="375.7" r="1.8"/><ellipse cx="37.9" cy="369.9" rx="0.8" ry="0.5" transform="rotate(79 37.9 369.9)"/><ellipse cx="47.4" cy="367.6" rx="1.7" ry="1.2" transform="rotate(143 47.4 367.6)"/><ellipse cx="45.0" cy="301.0" rx="1.1" ry="0.6" transform="rotate(156 45.0 301.0)"/><circle cx="38.3" cy="365.2" r="1.1"/><circle cx="42.6" cy="378.0" r="0.4"/><ellipse cx="27.9" cy="326.8" rx="2.8" ry="1.5" transform="rotate(33 27.9 326.8)"/><circle cx="17.9" cy="319.3" r="0.5"/><ellipse cx="39.3" cy="363.5" rx="0.7" ry="0.3" transform="rotate(95 39.3 363.5)"/><circle cx="128.4" cy="275.1" r="0.6"/><ellipse cx="121.3" cy="278.6" rx="1.5" ry="0.7" transform="rotate(133 121.3 278.6)"/><ellipse cx="83.9" cy="290.1" rx="1.1" ry="0.6" transform="rotate(169 83.9 290.1)"/><circle cx="27.6" cy="332.7" r="0.5"/><ellipse cx="34.0" cy="350.4" rx="1.4" ry="0.7" transform="rotate(113 34.0 350.4)"/><circle cx="49.5" cy="367.2" r="0.9"/><circle cx="22.4" cy="332.8" r="0.7"/><circle cx="35.6" cy="390.8" r="1.7"/><circle cx="40.0" cy="353.6" r="0.8"/><circle cx="37.2" cy="379.6" r="1.1"/><circle cx="26.1" cy="321.3" r="0.8"/><circle cx="77.3" cy="292.8" r="1.8"/><circle cx="125.9" cy="280.3" r="0.5"/></g>
<g fill="#1a1a1a"><circle cx="29.5" cy="399.7" r="0.8"/><ellipse cx="33.7" cy="430.1" rx="1.2" ry="0.9" transform="rotate(137 33.7 430.1)"/><ellipse cx="36.2" cy="437.7" rx="1.1" ry="0.5" transform="rotate(81 36.2 437.7)"/><circle cx="26.5" cy="412.9" r="0.7"/><circle cx="61.9" cy="464.0" r="0.6"/><circle cx="43.8" cy="449.3" r="0.4"/><circle cx="38.9" cy="441.3" r="0.6"/><circle cx="29.1" cy="409.0" r="0.7"/><ellipse cx="45.1" cy="452.4" rx="0.5" ry="0.4" transform="rotate(131 45.1 452.4)"/></g>
<g fill="#3a3a3a"><circle cx="100.4" cy="285.4" r="0.3"/><circle cx="31.6" cy="351.7" r="0.3"/><circle cx="42.5" cy="304.3" r="0.3"/><circle cx="65.2" cy="296.7" r="0.4"/><circle cx="101.2" cy="286.8" r="0.5"/><circle cx="25.8" cy="337.1" r="0.5"/><ellipse cx="27.0" cy="328.0" rx="1.1" ry="0.6" transform="rotate(50 27.0 328.0)"/><ellipse cx="49.9" cy="361.5" rx="0.4" ry="0.2" transform="rotate(169 49.9 361.5)"/><circle cx="50.8" cy="300.9" r="0.5"/><circle cx="34.3" cy="389.7" r="0.5"/><circle cx="37.1" cy="305.0" r="0.6"/><circle cx="54.6" cy="295.9" r="0.5"/><circle cx="57.8" cy="293.3" r="0.5"/><circle cx="17.7" cy="347.3" r="0.5"/><circle cx="68.8" cy="291.9" r="0.6"/><ellipse cx="32.2" cy="338.7" rx="0.5" ry="0.3" transform="rotate(146 32.2 338.7)"/><circle cx="50.4" cy="295.8" r="0.4"/><circle cx="36.5" cy="388.2" r="0.6"/><circle cx="20.1" cy="322.7" r="0.5"/><ellipse cx="28.6" cy="309.6" rx="0.9" ry="0.4" transform="rotate(139 28.6 309.6)"/><circle cx="33.0" cy="390.7" r="0.5"/><ellipse cx="34.1" cy="303.9" rx="0.7" ry="0.3" transform="rotate(5 34.1 303.9)"/><circle cx="136.1" cy="275.6" r="0.4"/><circle cx="22.2" cy="322.9" r="0.5"/><circle cx="23.3" cy="325.5" r="0.3"/><circle cx="53.8" cy="301.2" r="0.5"/><circle cx="31.1" cy="307.7" r="0.3"/><circle cx="24.8" cy="308.2" r="0.6"/><ellipse cx="36.6" cy="377.5" rx="0.4" ry="0.3" transform="rotate(132 36.6 377.5)"/><ellipse cx="40.7" cy="376.4" rx="0.7" ry="0.3" transform="rotate(143 40.7 376.4)"/><circle cx="31.1" cy="330.4" r="0.6"/><circle cx="38.8" cy="372.3" r="0.5"/><circle cx="39.6" cy="359.0" r="0.4"/><circle cx="40.6" cy="368.6" r="0.5"/><circle cx="81.5" cy="290.4" r="0.5"/><circle cx="132.5" cy="274.4" r="0.5"/><circle cx="36.0" cy="371.7" r="0.5"/><ellipse cx="66.5" cy="297.0" rx="0.7" ry="0.4" transform="rotate(138 66.5 297.0)"/><circle cx="70.7" cy="293.6" r="0.3"/><circle cx="38.4" cy="356.5" r="0.6"/><circle cx="27.8" cy="343.4" r="0.5"/><circle cx="30.2" cy="387.4" r="0.6"/><circle cx="31.8" cy="319.1" r="0.6"/><circle cx="28.6" cy="309.1" r="0.5"/><ellipse cx="71.6" cy="289.8" rx="0.5" ry="0.3" transform="rotate(63 71.6 289.8)"/></g>
<path fill="#f7f7f7" stroke="#d8d8d8" stroke-width="0.7" d="M506.0,271.0 C506.0,271.0 523.0,273.1 528.0,274.0 C533.0,274.9 538.6,276.2 543.6,277.5 C548.6,278.8 558.3,281.8 565.7,283.8 C573.1,285.8 591.4,290.6 598.8,292.8 C606.2,295.0 616.3,298.4 621.0,300.3 C625.7,302.2 631.5,305.3 634.0,307.0 C636.5,308.7 639.1,309.9 640.0,313.0 C640.9,316.1 640.9,325.1 641.0,330.0 C641.1,334.9 641.4,346.3 640.5,350.0 C639.6,353.7 636.3,355.5 634.0,357.5 C631.7,359.5 624.2,362.3 623.0,365.0 C621.8,367.7 624.1,374.1 625.0,378.0 C625.9,381.9 629.0,389.5 630.0,394.0 C631.0,398.5 632.7,406.9 632.5,412.0 C632.3,417.1 630.6,426.9 628.5,432.0 C626.4,437.1 620.5,445.7 616.5,450.0 C612.5,454.3 603.0,461.1 598.5,464.0 C594.0,466.9 586.1,470.6 583.0,471.5 C579.9,472.4 575.0,470.5 575.0,470.5 C575.0,470.5 578.0,462.0 578.0,462.0 C578.0,462.0 598.7,448.3 603.0,440.0 C607.3,431.7 610.0,409.3 610.0,400.0 C610.0,390.7 602.6,378.0 603.0,370.0 C603.4,362.0 611.7,347.3 613.0,340.0 C614.3,332.7 620.3,321.0 613.0,315.0 C605.7,309.0 572.7,299.4 558.0,295.0 C543.3,290.6 503.0,282.0 503.0,282.0 C503.0,282.0 506.0,271.0 506.0,271.0Z"/>
<g fill="#1a1a1a"><circle cx="633.3" cy="349.5" r="0.5"/><circle cx="623.8" cy="306.0" r="0.8"/><ellipse cx="626.6" cy="307.2" rx="0.5" ry="0.4" transform="rotate(108 626.6 307.2)"/><ellipse cx="613.6" cy="375.0" rx="2.5" ry="1.7" transform="rotate(165 613.6 375.0)"/><circle cx="527.7" cy="276.9" r="0.8"/><circle cx="634.2" cy="347.3" r="0.5"/><circle cx="637.8" cy="325.9" r="0.9"/><circle cx="551.6" cy="281.8" r="0.9"/><circle cx="623.4" cy="354.3" r="1.1"/><circle cx="577.4" cy="291.1" r="1.1"/><circle cx="532.0" cy="275.3" r="0.7"/><ellipse cx="561.3" cy="284.9" rx="1.0" ry="0.4" transform="rotate(98 561.3 284.9)"/><ellipse cx="636.7" cy="344.6" rx="1.1" ry="0.8" transform="rotate(110 636.7 344.6)"/><ellipse cx="626.3" cy="316.5" rx="1.0" ry="0.4" transform="rotate(173 626.3 316.5)"/><circle cx="629.3" cy="343.1" r="1.1"/><ellipse cx="638.9" cy="330.5" rx="1.1" ry="0.6" transform="rotate(52 638.9 330.5)"/><ellipse cx="611.5" cy="371.0" rx="2.9" ry="1.5" transform="rotate(44 611.5 371.0)"/><circle cx="625.9" cy="337.0" r="1.8"/><ellipse cx="629.1" cy="317.6" rx="1.2" ry="0.9" transform="rotate(11 629.1 317.6)"/><circle cx="618.9" cy="355.0" r="0.6"/><circle cx="515.6" cy="278.0" r="0.9"/><circle cx="628.9" cy="338.1" r="0.6"/><circle cx="575.7" cy="287.2" r="0.7"/><circle cx="597.9" cy="298.0" r="2.0"/><circle cx="558.0" cy="287.5" r="0.9"/><ellipse cx="559.3" cy="282.7" rx="2.5" ry="1.1" transform="rotate(136 559.3 282.7)"/><ellipse cx="626.1" cy="346.0" rx="0.8" ry="0.5" transform="rotate(67 626.1 346.0)"/><circle cx="630.8" cy="315.6" r="0.9"/><circle cx="537.0" cy="280.5" r="1.1"/><ellipse cx="633.0" cy="349.2" rx="1.1" ry="1.0" transform="rotate(73 633.0 349.2)"/><ellipse cx="639.6" cy="333.8" rx="0.8" ry="0.4" transform="rotate(168 639.6 333.8)"/><circle cx="512.8" cy="275.6" r="0.5"/><ellipse cx="630.4" cy="343.4" rx="0.8" ry="0.4" transform="rotate(102 630.4 343.4)"/><ellipse cx="539.0" cy="281.2" rx="0.8" ry="0.7" transform="rotate(8 539.0 281.2)"/><circle cx="556.4" cy="282.9" r="0.6"/><circle cx="523.5" cy="279.0" r="0.6"/><ellipse cx="544.5" cy="278.7" rx="0.8" ry="0.5" transform="rotate(64 544.5 278.7)"/><circle cx="622.1" cy="385.9" r="0.6"/><ellipse cx="617.6" cy="358.9" rx="2.6" ry="1.3" transform="rotate(168 617.6 358.9)"/><ellipse cx="632.4" cy="335.4" rx="1.3" ry="0.6" transform="rotate(9 632.4 335.4)"/><ellipse cx="625.0" cy="318.5" rx="0.9" ry="0.4" transform="rotate(135 625.0 318.5)"/><ellipse cx="619.4" cy="373.8" rx="1.1" ry="0.5" transform="rotate(6 619.4 373.8)"/><ellipse cx="585.1" cy="293.4" rx="0.8" ry="0.5" transform="rotate(85 585.1 293.4)"/><circle cx="630.7" cy="354.8" r="0.8"/><circle cx="544.3" cy="280.4" r="1.5"/><circle cx="627.1" cy="354.2" r="0.9"/><circle cx="637.6" cy="336.8" r="0.4"/><circle cx="536.2" cy="278.6" r="1.0"/><circle cx="628.1" cy="307.6" r="0.8"/><circle cx="587.4" cy="293.2" r="0.8"/><circle cx="614.5" cy="357.3" r="1.1"/><circle cx="519.8" cy="278.8" r="0.7"/><circle cx="545.9" cy="285.1" r="0.6"/><circle cx="630.0" cy="317.2" r="0.7"/><ellipse cx="638.9" cy="336.5" rx="1.4" ry="1.0" transform="rotate(0 638.9 336.5)"/><circle cx="634.9" cy="354.1" r="0.4"/><circle cx="510.7" cy="273.9" r="0.7"/><circle cx="617.4" cy="381.8" r="1.1"/><circle cx="635.7" cy="343.5" r="0.6"/><ellipse cx="630.8" cy="307.2" rx="1.3" ry="0.8" transform="rotate(101 630.8 307.2)"/></g>
<g fill="#1a1a1a"><ellipse cx="623.5" cy="409.0" rx="1.3" ry="0.5" transform="rotate(55 623.5 409.0)"/><circle cx="622.9" cy="432.7" r="0.7"/><ellipse cx="625.3" cy="395.2" rx="1.1" ry="0.7" transform="rotate(78 625.3 395.2)"/><ellipse cx="621.8" cy="442.0" rx="1.0" ry="0.5" transform="rotate(11 621.8 442.0)"/><circle cx="583.5" cy="467.6" r="0.5"/><circle cx="599.0" cy="456.0" r="0.7"/><ellipse cx="624.8" cy="413.5" rx="0.9" ry="0.7" transform="rotate(126 624.8 413.5)"/><circle cx="609.1" cy="447.3" r="0.7"/><circle cx="626.3" cy="405.6" r="1.6"/></g>
<g fill="#3a3a3a"><circle cx="515.6" cy="272.4" r="0.3"/><circle cx="613.3" cy="366.1" r="0.6"/><circle cx="615.4" cy="354.0" r="0.3"/><circle cx="629.1" cy="316.3" r="0.3"/><circle cx="625.1" cy="350.0" r="0.6"/><circle cx="572.6" cy="290.2" r="0.6"/><circle cx="618.8" cy="360.3" r="0.4"/><circle cx="630.7" cy="320.2" r="0.3"/><circle cx="623.3" cy="375.5" r="0.3"/><circle cx="631.1" cy="356.1" r="0.6"/><circle cx="568.8" cy="284.9" r="0.5"/><circle cx="623.1" cy="391.2" r="0.3"/><circle cx="544.3" cy="284.1" r="0.6"/><circle cx="546.1" cy="280.5" r="0.3"/><ellipse cx="508.5" cy="275.9" rx="0.4" ry="0.2" transform="rotate(167 508.5 275.9)"/><circle cx="631.9" cy="335.7" r="0.4"/><circle cx="594.0" cy="293.0" r="0.6"/><circle cx="542.9" cy="282.1" r="0.6"/><circle cx="621.2" cy="368.0" r="0.4"/><circle cx="625.0" cy="396.1" r="0.6"/><ellipse cx="514.9" cy="277.0" rx="0.6" ry="0.3" transform="rotate(125 514.9 277.0)"/><circle cx="626.4" cy="352.8" r="0.3"/><ellipse cx="578.0" cy="287.2" rx="0.9" ry="0.5" transform="rotate(121 578.0 287.2)"/><circle cx="549.5" cy="285.1" r="0.5"/><ellipse cx="639.8" cy="338.7" rx="1.0" ry="0.4" transform="rotate(71 639.8 338.7)"/><circle cx="617.5" cy="373.7" r="0.6"/><circle cx="638.0" cy="314.3" r="0.4"/><circle cx="637.3" cy="345.7" r="0.4"/><circle cx="623.3" cy="373.1" r="0.5"/><circle cx="638.5" cy="324.1" r="0.6"/><circle cx="626.0" cy="316.6" r="0.6"/><circle cx="566.1" cy="286.3" r="0.5"/><circle cx="525.1" cy="277.3" r="0.4"/><circle cx="618.3" cy="375.0" r="0.5"/><ellipse cx="636.7" cy="325.5" rx="0.9" ry="0.5" transform="rotate(166 636.7 325.5)"/><ellipse cx="547.7" cy="279.7" rx="1.0" ry="0.6" transform="rotate(111 547.7 279.7)"/><circle cx="636.2" cy="338.6" r="0.6"/><circle cx="639.1" cy="326.5" r="0.5"/><circle cx="581.1" cy="293.5" r="0.6"/><circle cx="619.2" cy="383.2" r="0.4"/><ellipse cx="626.3" cy="324.2" rx="0.6" ry="0.3" transform="rotate(153 626.3 324.2)"/><ellipse cx="543.4" cy="278.0" rx="0.5" ry="0.3" transform="rotate(143 543.4 278.0)"/><circle cx="540.8" cy="278.5" r="0.6"/><circle cx="621.9" cy="305.8" r="0.4"/><circle cx="638.9" cy="333.1" r="0.5"/></g>
<path fill="url(#fl)" d="M329.0,274.5 C325.3,274.5 320.2,274.3 315.0,274.0 C309.8,273.7 298.7,272.8 290.0,272.3 C281.3,271.8 262.0,270.9 250.0,270.6 C238.0,270.3 213.2,269.9 200.0,270.0 C186.8,270.1 151.0,271.5 151.0,271.5 C151.0,271.5 149.0,277.5 149.0,277.5 C149.0,277.5 131.1,280.7 125.0,282.0 C118.9,283.3 108.9,285.9 103.0,287.5 C97.1,289.1 86.9,292.3 81.0,294.0 C75.1,295.7 64.9,298.7 59.0,300.5 C53.1,302.3 40.4,306.3 37.0,307.5 C33.6,308.7 33.5,309.5 33.5,309.5 C33.5,309.5 34.0,347.0 34.0,347.0 C34.0,347.0 45.5,355.5 48.0,358.0 C50.5,360.5 52.8,363.7 52.5,366.0 C52.2,368.3 47.7,372.6 46.0,375.0 C44.3,377.4 40.8,380.8 39.4,384.0 C38.0,387.2 35.8,394.5 35.4,399.0 C35.0,403.5 35.2,412.8 36.2,418.0 C37.2,423.2 40.1,433.2 43.0,438.0 C45.9,442.8 53.5,450.1 58.0,454.0 C62.5,457.9 76.5,467.0 76.5,467.0 C76.5,467.0 87.7,470.8 95.0,473.3 C102.3,475.8 121.5,482.6 131.0,486.0 C140.5,489.4 157.6,495.6 166.0,498.6 C174.4,501.6 188.3,506.9 194.0,508.8 C199.7,510.7 204.7,512.4 208.5,513.0 C212.3,513.6 218.8,514.2 222.6,513.5 C226.4,512.8 233.2,509.8 237.0,508.0 C240.8,506.2 248.0,502.4 251.0,500.0 C254.0,497.6 257.3,492.8 259.5,490.0 C261.7,487.2 265.7,482.1 267.5,479.0 C269.3,475.9 271.7,470.1 273.0,467.0 C274.3,463.9 277.5,456.0 277.5,456.0 C277.5,456.0 272.8,451.5 272.8,451.5 C272.8,451.5 278.6,437.0 281.5,430.0 C284.4,423.0 291.9,405.8 294.8,399.0 C297.7,392.2 301.8,382.3 303.6,379.0 C305.4,375.7 306.8,374.9 308.5,374.0 C310.2,373.1 313.3,372.5 316.0,372.2 C318.7,371.9 325.5,371.8 329.0,371.8 C332.5,371.8 339.3,371.9 342.0,372.2 C344.7,372.5 347.8,373.1 349.5,374.0 C351.2,374.9 352.6,375.7 354.4,379.0 C356.2,382.3 360.3,392.2 363.2,399.0 C366.1,405.8 373.6,423.0 376.5,430.0 C379.4,437.0 385.2,451.5 385.2,451.5 C385.2,451.5 380.5,456.0 380.5,456.0 C380.5,456.0 383.7,463.9 385.0,467.0 C386.3,470.1 388.7,475.9 390.5,479.0 C392.3,482.1 396.3,487.2 398.5,490.0 C400.7,492.8 404.0,497.6 407.0,500.0 C410.0,502.4 417.2,506.2 421.0,508.0 C424.8,509.8 431.6,512.8 435.4,513.5 C439.2,514.2 445.7,513.6 449.5,513.0 C453.3,512.4 458.3,510.7 464.0,508.8 C469.7,506.9 483.6,501.6 492.0,498.6 C500.4,495.6 517.5,489.4 527.0,486.0 C536.5,482.6 555.7,475.8 563.0,473.3 C570.3,470.8 581.5,467.0 581.5,467.0 C581.5,467.0 595.5,457.9 600.0,454.0 C604.5,450.1 612.1,442.8 615.0,438.0 C617.9,433.2 620.8,423.2 621.8,418.0 C622.8,412.8 623.0,403.5 622.6,399.0 C622.2,394.5 620.0,387.2 618.6,384.0 C617.2,380.8 613.7,377.4 612.0,375.0 C610.3,372.6 605.8,368.3 605.5,366.0 C605.2,363.7 607.5,360.5 610.0,358.0 C612.5,355.5 624.0,347.0 624.0,347.0 C624.0,347.0 624.5,309.5 624.5,309.5 C624.5,309.5 624.4,308.7 621.0,307.5 C617.6,306.3 604.9,302.3 599.0,300.5 C593.1,298.7 582.9,295.7 577.0,294.0 C571.1,292.3 560.9,289.1 555.0,287.5 C549.1,285.9 539.1,283.3 533.0,282.0 C526.9,280.7 509.0,277.5 509.0,277.5 C509.0,277.5 507.0,271.5 507.0,271.5 C507.0,271.5 471.2,270.1 458.0,270.0 C444.8,269.9 420.0,270.3 408.0,270.6 C396.0,270.9 376.7,271.8 368.0,272.3 C359.3,272.8 348.2,273.7 343.0,274.0 C337.8,274.3 332.7,274.5 329.0,274.5Z"/>
<g clip-path="url(#cfl)"><path d="M25,428 L60,447 L154,475.5 L205,494 L240,500 L250,540 L20,540 Z" fill="url(#bandL)" filter="url(#bl2)"/><path d="M633,428 L598,447 L504,475.5 L453,494 L418,500 L408,540 L638,540 Z" fill="url(#bandR)" filter="url(#bl2)"/><path d="M25,428 L60,447 L154,475.5 L215,497" fill="none" stroke="#fff" stroke-opacity="0.15" stroke-width="1.2"/><path d="M633,428 L598,447 L504,475.5 L443,497" fill="none" stroke="#fff" stroke-opacity="0.15" stroke-width="1.2"/></g>
<path d="M100,503 C140,507 175,511 205,514" fill="none" stroke="#efe7dd" stroke-width="2" stroke-linecap="round"/>
<path d="M558,503 C518,507 483,511 453,514" fill="none" stroke="#efe7dd" stroke-width="2" stroke-linecap="round"/>
<g clip-path="url(#cfl)"><rect x="290" y="265" width="80" height="260" fill="url(#fband)"/><rect x="30" y="265" width="600" height="40" fill="url(#ftop)"/></g>
<path d="M33.8,309 L34.3,347.5" stroke="#3a2630" stroke-width="2.6" fill="none"/>
<path d="M34.0,347.0 C34.0,347.0 45.5,355.5 48.0,358.0 C50.5,360.5 52.8,363.7 52.5,366.0 C52.2,368.3 47.7,372.6 46.0,375.0 C44.3,377.4 40.8,380.8 39.4,384.0 C38.0,387.2 35.8,394.5 35.4,399.0 C35.0,403.5 35.2,412.8 36.2,418.0 C37.2,423.2 40.1,433.2 43.0,438.0 C45.9,442.8 53.5,450.1 58.0,454.0 C62.5,457.9 76.5,467.0 76.5,467.0" stroke="#2a2438" stroke-opacity="0.75" stroke-width="0.8" fill="none"/>
<path d="M624.0,347.0 C624.0,347.0 612.5,355.5 610.0,358.0 C607.5,360.5 605.2,363.7 605.5,366.0 C605.8,368.3 610.3,372.6 612.0,375.0 C613.7,377.4 617.2,380.8 618.6,384.0 C620.0,387.2 622.2,394.5 622.6,399.0 C623.0,403.5 622.8,412.8 621.8,418.0 C620.8,423.2 617.9,433.2 615.0,438.0 C612.1,442.8 604.5,450.1 600.0,454.0 C595.5,457.9 581.5,467.0 581.5,467.0" stroke="#2a2438" stroke-opacity="0.75" stroke-width="0.8" fill="none"/>
<path d="M624.2,309 L623.7,347.5" stroke="#3a2630" stroke-width="2.6" fill="none"/>
<path fill="#f8f6f6" d="M279.0,455.5 C279.0,455.5 272.5,451.5 272.5,451.5 C272.5,451.5 278.5,437.0 281.5,430.0 C284.5,423.0 291.9,405.8 294.8,399.0 C297.7,392.2 301.8,382.3 303.6,379.0 C305.4,375.7 306.8,374.9 308.5,374.0 C310.2,373.1 313.3,372.5 316.0,372.2 C318.7,371.9 325.5,371.8 329.0,371.8 C332.5,371.8 339.3,371.9 342.0,372.2 C344.7,372.5 347.8,373.1 349.5,374.0 C351.2,374.9 352.6,375.7 354.4,379.0 C356.2,382.3 360.3,392.2 363.2,399.0 C366.1,405.8 373.5,423.0 376.5,430.0 C379.5,437.0 385.5,451.5 385.5,451.5 C385.5,451.5 379.0,455.5 379.0,455.5 C379.0,455.5 375.7,455.1 374.0,452.0 C372.3,448.9 368.9,439.2 366.0,432.0 C363.1,424.8 354.9,404.1 352.0,398.0 C349.1,391.9 347.1,388.0 344.0,386.0 C340.9,384.0 333.0,383.0 329.0,383.0 C325.0,383.0 317.1,384.0 314.0,386.0 C310.9,388.0 308.9,391.9 306.0,398.0 C303.1,404.1 294.9,424.8 292.0,432.0 C289.1,439.2 285.7,448.9 284.0,452.0 C282.3,455.1 279.0,455.5 279.0,455.5Z"/>
<rect x="319.5" y="376.5" width="16.5" height="8" rx="1.5" fill="#f1eded"/>
<g fill="#141414"><path d="M312,376.5 L314.2,376.5 L314,387.5 L311.8,387.5 Z"/><path d="M340,377 C342,375.5 345,376 346,377.5 C346.5,379 344,380 345,381.5 C346.5,383.5 349.5,382 351,384.5 L349.5,385.5 C347.5,384 345,385.5 343.5,383 C342.5,381 344.5,379.5 343.5,378.5 C342.5,377.8 341,378.6 340.5,378.6 Z"/><circle cx="339.5" cy="385" r="0.9"/><circle cx="346.5" cy="387.3" r="0.9"/><circle cx="353.6" cy="393.2" r="0.7"/><circle cx="357" cy="398.5" r="0.7"/><ellipse cx="288.8" cy="417.5" rx="0.9" ry="1.6"/><circle cx="293.2" cy="417.9" r="1.1"/><circle cx="296.5" cy="417" r="0.7"/><circle cx="287" cy="424.6" r="0.5"/><ellipse cx="287" cy="433.6" rx="1.3" ry="2.9"/><circle cx="277.9" cy="440" r="0.7"/><circle cx="283.5" cy="439.5" r="0.5"/><path d="M276.5,450 C278,452 280,452 281.5,450.5" fill="none" stroke="#141414" stroke-width="1"/><circle cx="362.5" cy="413.3" r="0.7"/><circle cx="361.3" cy="416.9" r="0.8"/><circle cx="364.3" cy="418" r="1"/><ellipse cx="369" cy="417.9" rx="0.8" ry="1.7"/><circle cx="371.4" cy="424.6" r="0.5"/><ellipse cx="370.8" cy="433.6" rx="1.3" ry="2.9"/><circle cx="374.4" cy="439.5" r="0.6"/><circle cx="380.4" cy="440" r="0.6"/><path d="M376.5,450.5 C378,452 380,452 381.5,450" fill="none" stroke="#141414" stroke-width="1"/><circle cx="353.6" cy="393" r="0.6"/><circle cx="357.1" cy="399" r="0.6"/><circle cx="300" cy="398" r="0.5"/><circle cx="305" cy="388" r="0.5"/></g>
<g fill="none" stroke="#3a3a3a" stroke-width="0.75" stroke-linejoin="round"><path transform="rotate(0 11.8 13.4)" d="M4.3,7.6 L7.3,3.0 L15.4,3.0 L17.3,6.2 L18.6,5.6 L17.1,9.4 L13.2,8.5 L14.4,7.9 L12.9,5.6 L9.6,5.6 L6.9,9.9 Z"/><path transform="rotate(120 11.8 13.4)" d="M4.3,7.6 L7.3,3.0 L15.4,3.0 L17.3,6.2 L18.6,5.6 L17.1,9.4 L13.2,8.5 L14.4,7.9 L12.9,5.6 L9.6,5.6 L6.9,9.9 Z"/><path transform="rotate(240 11.8 13.4)" d="M4.3,7.6 L7.3,3.0 L15.4,3.0 L17.3,6.2 L18.6,5.6 L17.1,9.4 L13.2,8.5 L14.4,7.9 L12.9,5.6 L9.6,5.6 L6.9,9.9 Z"/></g>
<g fill="none" stroke-linejoin="round"><path d="M3.7,50.4 L19.4,50.4 L19.4,65.4 L3.7,65.4 Z" stroke="#8a8a8a" stroke-width="0.9"/><path d="M5.4,57.2 L8.2,56.2 L10.3,60.3 L21.9,48.7 L25.2,51.4 L9.9,63.4 Z" fill="#fff" stroke="#222" stroke-width="1"/></g>
<path d="M90.3,590.6 L136.3,590.6 L147.6,594.4 L148,600.3 L145.3,602.8 L148,605.6 L146,611.8 L129.2,617.8 L124.5,617.4 L117.4,603.9 C116,602 112,602 110.3,603.9 L103.3,617.4 L98.6,617.8 L81.6,611.5 L79.8,605.6 L82.6,602.8 L79.8,600.3 L80.1,594.4 Z" fill="none" stroke="#a6a6a6" stroke-width="2.0" stroke-linejoin="round" stroke-linecap="round"/><path d="M90.3,590.6 L136.3,590.6 L147.6,594.4 L148,600.3 L145.3,602.8 L148,605.6 L146,611.8 L129.2,617.8 L124.5,617.4 L117.4,603.9 C116,602 112,602 110.3,603.9 L103.3,617.4 L98.6,617.8 L81.6,611.5 L79.8,605.6 L82.6,602.8 L79.8,600.3 L80.1,594.4 Z" fill="none" stroke="#fff" stroke-width="0.7" stroke-linejoin="round" stroke-linecap="round"/><path d="M285.4,591.3 L262.7,590.2 L249.8,594 L249.4,599.6 L252.5,602.4 L249.4,605.3 L249.8,610.1 L254.6,615 L272.4,620.2 C274.5,620.4 276,620 276.8,618.5 L281.3,608.5 L285,602.6" fill="none" stroke="#a6a6a6" stroke-width="2.0" stroke-linejoin="round" stroke-linecap="round"/><path d="M285.4,591.3 L262.7,590.2 L249.8,594 L249.4,599.6 L252.5,602.4 L249.4,605.3 L249.8,610.1 L254.6,615 L272.4,620.2 C274.5,620.4 276,620 276.8,618.5 L281.3,608.5 L285,602.6" fill="none" stroke="#fff" stroke-width="0.7" stroke-linejoin="round" stroke-linecap="round"/><line x1="270.8" y1="593.3" x2="270.8" y2="617.8" stroke="#c4c4c4" stroke-width="0.9"/><line x1="401" y1="592.4" x2="419.8" y2="592.4" stroke="#6a6a6a" stroke-width="0.9"/><line x1="404" y1="592.6" x2="417" y2="592.6" stroke="#bbb" stroke-width="0.8"/><path d="M404.2,605 C402.5,602.5 403,600.2 406.5,599.8 L413.5,599.8 C417,600.2 417.5,602.5 415.8,605" fill="none" stroke="#333" stroke-width="0.9"/><path d="M404.2,605 L399.8,618.6" fill="none" stroke="#777" stroke-width="1.9" stroke-linejoin="round" stroke-linecap="round"/><path d="M404.2,605 L399.8,618.6" fill="none" stroke="#fff" stroke-width="0.6" stroke-linejoin="round" stroke-linecap="round"/><path d="M415.8,605 L419,618.6" fill="none" stroke="#777" stroke-width="1.9" stroke-linejoin="round" stroke-linecap="round"/><path d="M415.8,605 L419,618.6" fill="none" stroke="#fff" stroke-width="0.6" stroke-linejoin="round" stroke-linecap="round"/><g fill="none" stroke="#a2a2a2" stroke-width="0.9" stroke-linejoin="round" stroke-linecap="round"><path d="M528.8,611.4 C527.2,611 527.2,609.6 528.3,609.2 L551.3,601.3 L585,592.3"/><path d="M528.8,611.4 L551.3,603.9 L573.5,597.8"/><path d="M516.8,619.4 C515.2,619.1 515.2,617.8 516.6,617.5 L535,613.2 L551.3,608.7 L566,605.6"/><path d="M516.8,619.4 L541.3,615.1 L573.9,608.7"/><path d="M554,604.5 L566,601.2 M556,606.5 L568,603.6"/></g><path d="M585,592.3 C587.5,591.6 589.2,593 589.2,595 L589.2,615.5 C589.2,617.2 588,618.3 586.5,618.3 L578,618.3 C575.5,618.3 573.9,616.5 573.9,614.4 L573.9,611 L576.3,607.8 L574,603.2 L584.5,595.8" fill="none" stroke="#a0a0a0" stroke-width="1.7" stroke-linejoin="round" stroke-linecap="round"/><path d="M585,592.3 C587.5,591.6 589.2,593 589.2,595 L589.2,615.5 C589.2,617.2 588,618.3 586.5,618.3 L578,618.3 C575.5,618.3 573.9,616.5 573.9,614.4 L573.9,611 L576.3,607.8 L574,603.2 L584.5,595.8" fill="none" stroke="#fff" stroke-width="0.5" stroke-linejoin="round" stroke-linecap="round"/>
<!-- top-left header -->
<text class="h" x="39.8" y="10.4" font-size="8.8" textLength="114.3" lengthAdjust="spacingAndGlyphs">ENVIRONMENTAL FRIENDLY</text>
<text class="s" x="39.8" y="20.6" font-size="7.4" textLength="101.8" lengthAdjust="spacingAndGlyphs">High quality recycled materials</text>
<text class="h" x="39.8" y="55.5" font-size="8.8" textLength="84" lengthAdjust="spacingAndGlyphs">CUSTOMER SERVICE</text>
<text class="s" x="39.8" y="65.4" font-size="7.4" textLength="124.8" lengthAdjust="spacingAndGlyphs">Any question can contact us any time</text>

<!-- dimension lines -->
<g stroke="#aaaaaa" stroke-width="1.1">
<line x1="14.9" y1="238.5" x2="563.1" y2="238.5"/>
<line x1="639.5" y1="27.2" x2="639.5" y2="200.9" stroke="#9a9a9a"/>
<line x1="42.3" y1="530.5" x2="621.6" y2="530.5" stroke="#999"/>
</g>
<g stroke="#6a6a6a" stroke-width="0.9" fill="#fff">
<circle cx="12" cy="238.5" r="2.8"/>
<circle cx="566" cy="238.5" r="2.8"/>
<circle cx="639.5" cy="24.3" r="2.8"/>
<circle cx="639.5" cy="203.8" r="2.8"/>
<circle cx="39.4" cy="530.5" r="2.8"/>
<circle cx="624.5" cy="530.5" r="2.8"/>
</g>
<text class="d" x="308" y="253" font-size="11.3" textLength="32.7" lengthAdjust="spacingAndGlyphs">4.72in</text>
<text class="d" x="644.6" y="117" font-size="11.3" textLength="32.8" lengthAdjust="spacingAndGlyphs">1.89in</text>
<text class="d" x="316" y="545.9" font-size="11.3" textLength="33.3" lengthAdjust="spacingAndGlyphs">4.92in</text>

<!-- nose dimension -->
<g stroke="#666" stroke-width="0.8" fill="#fff">
<line x1="305.6" y1="431.4" x2="355.6" y2="431.4"/>
<circle cx="302.8" cy="431.4" r="2.8"/>
<circle cx="358.4" cy="431.4" r="2.8"/>
</g>
<text class="d" x="313.6" y="449" font-size="11.3" textLength="33" lengthAdjust="spacingAndGlyphs">0.71in</text>

<!-- bottom text -->
<text class="lab" x="198.4" y="567.8" font-size="10.6" textLength="236.6" lengthAdjust="spacingAndGlyphs">The size may have an error of 1-2 millimeters!</text>

<g fill="#701424">
<circle cx="78.3" cy="636" r="2.3"/>
<circle cx="234.8" cy="635.7" r="2.3"/>
<circle cx="382.3" cy="635.7" r="2.3"/>
<circle cx="518.5" cy="636.2" r="2.3"/>
</g>
<text class="lab" x="88.9" y="638.6" font-size="9.4" textLength="54.6" lengthAdjust="spacingAndGlyphs">Frame width</text>
<text class="lab" x="245.8" y="638.6" font-size="9.4" textLength="50.9" lengthAdjust="spacingAndGlyphs">Lens height</text>
<text class="lab" x="393" y="638.6" font-size="9.4" textLength="43.7" lengthAdjust="spacingAndGlyphs">Nose Pad</text>
<text class="lab" x="524.3" y="638.6" font-size="9.4" textLength="62.7" lengthAdjust="spacingAndGlyphs">Temple length</text>

<text class="num" x="88.2" y="669.6" font-size="22.7" textLength="38" lengthAdjust="spacingAndGlyphs">125</text>
<text class="num" x="128.6" y="669.6" font-size="11.5" textLength="18.6" lengthAdjust="spacingAndGlyphs">mm</text>
<text class="num" x="248.6" y="669.6" font-size="22.7" textLength="25.4" lengthAdjust="spacingAndGlyphs">48</text>
<text class="num" x="275.9" y="669.6" font-size="11.5" textLength="18.6" lengthAdjust="spacingAndGlyphs">mm</text>
<text class="num" x="394" y="669.6" font-size="22.7" textLength="25" lengthAdjust="spacingAndGlyphs">18</text>
<text class="num" x="420.4" y="669.6" font-size="11.5" textLength="18.6" lengthAdjust="spacingAndGlyphs">mm</text>
<text class="num" x="527.9" y="669.6" font-size="22.7" textLength="38.4" lengthAdjust="spacingAndGlyphs">120</text>
<text class="num" x="568.6" y="669.6" font-size="11.5" textLength="18.4" lengthAdjust="spacingAndGlyphs">mm</text>

</svg>
</body></html>
